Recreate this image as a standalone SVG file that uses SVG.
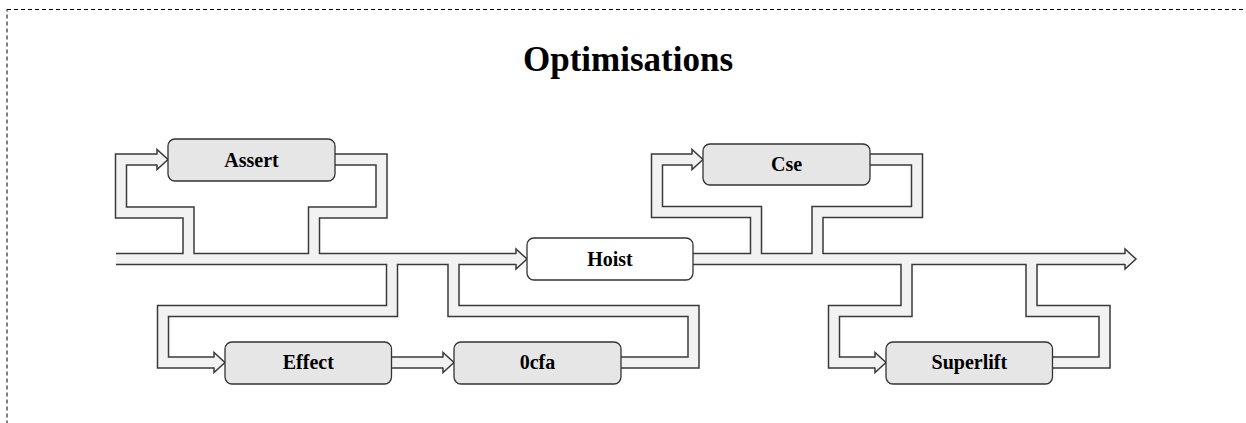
<svg xmlns="http://www.w3.org/2000/svg" xmlns:xlink="http://www.w3.org/1999/xlink" width="1246" height="423" viewBox="0 0 1246 423">
  <style>
    .frame { fill: none; stroke: #000; stroke-width: 1; stroke-dasharray: 4 3; }
    .title { font-family: "Liberation Serif", "Times New Roman", serif; font-weight: bold; font-size: 35px; fill: #000; text-anchor: middle; }
    .pipe-out { fill: none; stroke: #3a3a3a; stroke-width: 12.5; stroke-linejoin: miter; stroke-linecap: butt; }
    .pipe-in { fill: none; stroke: #f2f2f2; stroke-width: 9.5; stroke-linejoin: miter; stroke-linecap: butt; }
    .head { fill: #f2f2f2; stroke: #3a3a3a; stroke-width: 1.5; stroke-linejoin: miter; }
    .box { fill: #e6e6e6; stroke: #333; stroke-width: 1.3; }
    .box.plain { fill: #fff; }
    .label { font-family: "Liberation Serif", "Times New Roman", serif; font-weight: bold; font-size: 20px; fill: #000; text-anchor: middle; }
  </style>
  <defs>
    <!-- hollow arrow head, tip at origin, pointing right -->
    <path id="head" class="head" d="M-11,-5 V-10 L0,0 L-11,10 V5"/>
    <!-- pipe centrelines -->
    <path id="mainA" d="M116,259 H516"/>
    <path id="mainB" d="M693,259 H1125"/>
    <path id="assertIn" d="M188.5,259 V212.5 H121 V159.5 H157"/>
    <path id="assertOut" d="M335,159.5 H381.5 V212.5 H314 V259"/>
    <path id="effectIn" d="M392,259 V311 H163 V362.5 H214"/>
    <path id="effectToCfa" d="M391,362.5 H443"/>
    <path id="cfaOut" d="M621,362.5 H693.5 V311 H453.5 V259"/>
    <path id="cseIn" d="M756,259 V212 H657 V159.5 H692"/>
    <path id="cseOut" d="M870,159.5 H917 V212 H817.5 V259"/>
    <path id="superIn" d="M906.5,259 V311 H834 V362.5 H875"/>
    <path id="superOut" d="M1052,362.5 H1104.5 V311 H1031.5 V259"/>
  </defs>

  <rect class="frame" x="7" y="9.5" width="1300" height="500"/>

  <text class="title" x="628" y="71">Optimisations</text>

  <g id="connectors">
    <g class="pipe-out">
      <use xlink:href="#mainA"/>
      <use xlink:href="#mainB"/>
      <use xlink:href="#assertIn"/>
      <use xlink:href="#assertOut"/>
      <use xlink:href="#effectIn"/>
      <use xlink:href="#effectToCfa"/>
      <use xlink:href="#cfaOut"/>
      <use xlink:href="#cseIn"/>
      <use xlink:href="#cseOut"/>
      <use xlink:href="#superIn"/>
      <use xlink:href="#superOut"/>
    </g>
    <g class="pipe-in">
      <use xlink:href="#mainA"/>
      <use xlink:href="#mainB"/>
      <use xlink:href="#assertIn"/>
      <use xlink:href="#assertOut"/>
      <use xlink:href="#effectIn"/>
      <use xlink:href="#effectToCfa"/>
      <use xlink:href="#cfaOut"/>
      <use xlink:href="#cseIn"/>
      <use xlink:href="#cseOut"/>
      <use xlink:href="#superIn"/>
      <use xlink:href="#superOut"/>
    </g>
    <use xlink:href="#head" x="527" y="259"/>
    <use xlink:href="#head" x="1136" y="259"/>
    <use xlink:href="#head" x="168" y="159.5"/>
    <use xlink:href="#head" x="225" y="362.5"/>
    <use xlink:href="#head" x="454" y="362.5"/>
    <use xlink:href="#head" x="703" y="159.5"/>
    <use xlink:href="#head" x="886" y="362.5"/>
  </g>

  <g id="assert">
    <rect class="box" x="168" y="139" width="167" height="42" rx="7"/>
    <text class="label" x="251.5" y="166.5">Assert</text>
  </g>
  <g id="hoist">
    <rect class="box plain" x="527" y="238" width="166" height="42" rx="7"/>
    <text class="label" x="610" y="265.5">Hoist</text>
  </g>
  <g id="cse">
    <rect class="box" x="703" y="144" width="167" height="41" rx="7"/>
    <text class="label" x="786.5" y="171">Cse</text>
  </g>
  <g id="effect">
    <rect class="box" x="225" y="342" width="166.5" height="42" rx="7"/>
    <text class="label" x="308.3" y="369">Effect</text>
  </g>
  <g id="cfa">
    <rect class="box" x="454" y="342" width="167" height="42" rx="7"/>
    <text class="label" x="537.5" y="369">0cfa</text>
  </g>
  <g id="superlift">
    <rect class="box" x="886" y="342" width="166.5" height="42" rx="7"/>
    <text class="label" x="969.3" y="369">Superlift</text>
  </g>
</svg>
